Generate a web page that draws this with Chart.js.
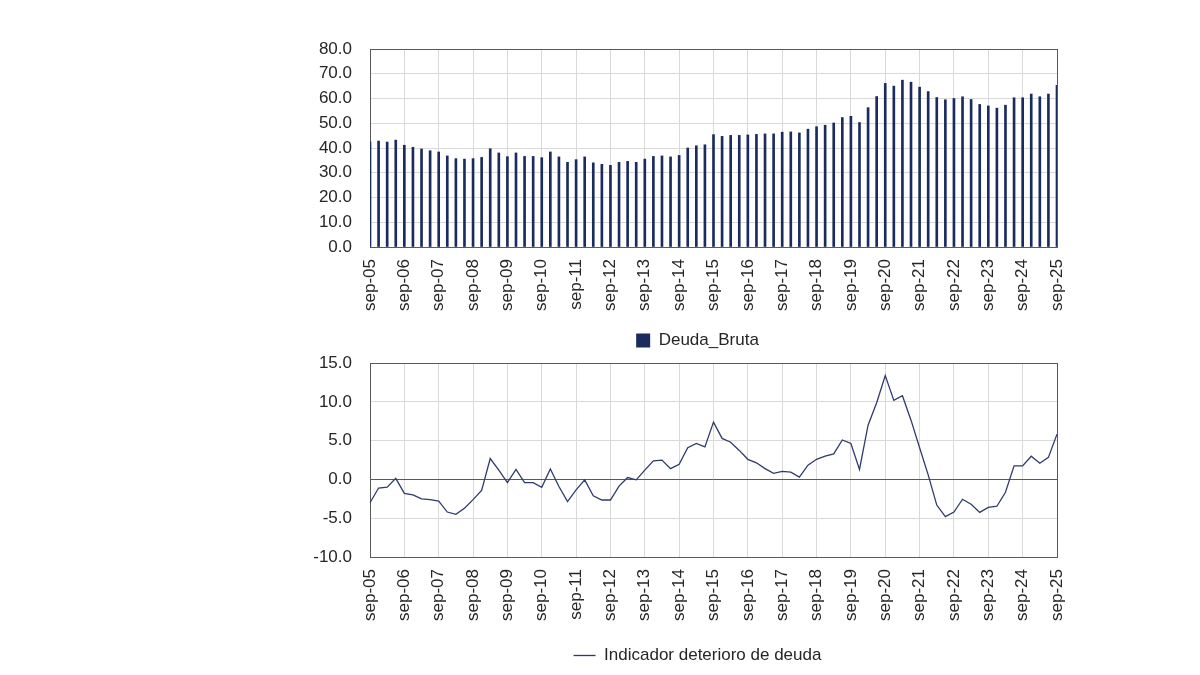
<!DOCTYPE html>
<html>
<head>
<meta charset="utf-8">
<script src="https://cdn.jsdelivr.net/npm/chart.js@4.4.1/dist/chart.umd.min.js"></script>
<style>
  html, body { margin: 0; padding: 0; background: #fff; }
  #wrap { position: relative; width: 1200px; height: 675px; }
  .box { position: absolute; left: 0; width: 1200px; }
</style>
</head>
<body>
<div id="wrap">
  <div class="box" style="top:0;height:359px"><canvas id="chart-debt" width="1200" height="359"></canvas></div>
  <div class="box" style="top:335px;height:340px"><canvas id="chart-indicator" width="1200" height="340"></canvas></div>
</div>
<script>
// Quarterly categories, sep-05 .. sep-25
const QUARTERS = [
  'sep-05', 'dic-05',
  'mar-06', 'jun-06', 'sep-06', 'dic-06',
  'mar-07', 'jun-07', 'sep-07', 'dic-07',
  'mar-08', 'jun-08', 'sep-08', 'dic-08',
  'mar-09', 'jun-09', 'sep-09', 'dic-09',
  'mar-10', 'jun-10', 'sep-10', 'dic-10',
  'mar-11', 'jun-11', 'sep-11', 'dic-11',
  'mar-12', 'jun-12', 'sep-12', 'dic-12',
  'mar-13', 'jun-13', 'sep-13', 'dic-13',
  'mar-14', 'jun-14', 'sep-14', 'dic-14',
  'mar-15', 'jun-15', 'sep-15', 'dic-15',
  'mar-16', 'jun-16', 'sep-16', 'dic-16',
  'mar-17', 'jun-17', 'sep-17', 'dic-17',
  'mar-18', 'jun-18', 'sep-18', 'dic-18',
  'mar-19', 'jun-19', 'sep-19', 'dic-19',
  'mar-20', 'jun-20', 'sep-20', 'dic-20',
  'mar-21', 'jun-21', 'sep-21', 'dic-21',
  'mar-22', 'jun-22', 'sep-22', 'dic-22',
  'mar-23', 'jun-23', 'sep-23', 'dic-23',
  'mar-24', 'jun-24', 'sep-24', 'dic-24',
  'mar-25', 'jun-25', 'sep-25'
];

// Deuda bruta (% PIB)
const DEUDA_BRUTA = [
  42.5, 42.8,
  42.4, 43.2, 41.1, 40.3,
  39.6, 38.9, 38.4, 36.8,
  35.7, 35.5, 35.7, 36.2,
  39.7, 38.0, 36.5, 38.0,
  36.6, 36.6, 36.1, 38.4,
  36.4, 34.2, 35.3, 36.4,
  34.0, 33.4, 33.0, 34.2,
  34.6, 34.2, 35.5, 36.6,
  36.8, 36.4, 37.0, 40.0,
  40.9, 41.3, 45.4, 44.7,
  45.1, 45.1, 45.3, 45.5,
  45.7, 45.7, 46.4, 46.5,
  46.1, 47.6, 48.6, 49.2,
  50.1, 52.3, 52.8, 50.3,
  56.3, 60.8, 66.1, 65.0,
  67.4, 66.6, 64.6, 62.8,
  60.4, 59.5, 60.0, 60.7,
  59.6, 57.6, 57.0, 56.1,
  57.3, 60.3, 60.3, 61.8,
  60.7, 61.8, 65.3
];

// Indicador deterioro de deuda
const INDICADOR = [
  -3.0, -1.1,
  -1.0, 0.15, -1.8, -2.0,
  -2.5, -2.6, -2.8, -4.2,
  -4.5, -3.7, -2.6, -1.4,
  2.7, 1.2, -0.4, 1.3,
  -0.4, -0.4, -1.0, 1.35,
  -0.9, -2.85, -1.35, -0.05,
  -2.1, -2.65, -2.65, -0.85,
  0.25, -0.05, 1.2, 2.4,
  2.5, 1.4, 1.95, 4.1,
  4.65, 4.2, 7.4, 5.3,
  4.8, 3.75, 2.6, 2.15,
  1.4, 0.8, 1.05, 0.95,
  0.3, 1.85, 2.6, 3.0,
  3.3, 5.1, 4.65, 1.3,
  7.0, 9.9, 13.4, 10.2,
  10.8, 7.65, 4.1, 0.6,
  -3.3, -4.8, -4.2, -2.55,
  -3.2, -4.25, -3.6, -3.45,
  -1.65, 1.75, 1.75, 3.0,
  2.1, 2.85, 5.85
];

const FONT = { family: "'Liberation Sans', Arial, sans-serif", size: 17 };
const TEXT_COLOR = '#262626';
const GRID_COLOR = '#d9d9d9';
const FRAME_COLOR = '#595959';

Chart.defaults.font.family = FONT.family;
Chart.defaults.font.size = FONT.size;
Chart.defaults.color = TEXT_COLOR;

// Box around the plot area (Excel style)
const framePlugin = {
  id: 'frame',
  beforeDatasetsDraw(chart) {
    const { ctx, chartArea: a } = chart;
    ctx.save();
    ctx.strokeStyle = FRAME_COLOR;
    ctx.lineWidth = 1;
    const l = Math.round(a.left) + 0.5, t = Math.round(a.top) + 0.5;
    const r = Math.round(a.right) + 0.5, b = Math.round(a.bottom) + 0.5;
    ctx.strokeRect(l, t, r - l, b - t);
    ctx.restore();
  }
};

// Legend sits a bit right of the padded box centre in the original
const legendShift = {
  id: 'legendShift',
  afterLayout(chart) {
    const lg = chart.legend;
    if (lg) {
      lg.left += 19;
      lg.right += 19;
    }
  }
};

// Year ticks only (every 4th quarter)
function yearTick(value, index) {
  return index % 4 === 0 ? QUARTERS[index] : null;
}

function xScale(height) {
  return {
    offset: false,
    grid: { offset: false, color: GRID_COLOR, drawTicks: false },
    border: { display: false },
    ticks: {
      autoSkip: false,
      maxRotation: 90,
      minRotation: 90,
      padding: 12,
      callback: yearTick
    },
    afterFit(scale) { scale.height = height; }
  };
}

function yScale(min, max, step, gridColor) {
  return {
    min,
    max,
    grid: { color: gridColor, drawTicks: false },
    border: { display: false },
    ticks: { stepSize: step, padding: 18, callback: v => v.toFixed(1) },
    afterFit(scale) { scale.width = 70; }
  };
}

// Top chart: Deuda_Bruta bars
new Chart(document.getElementById('chart-debt').getContext('2d'), {
  type: 'bar',
  data: {
    labels: QUARTERS,
    datasets: [{
      label: 'Deuda_Bruta',
      data: DEUDA_BRUTA,
      backgroundColor: '#1b2b5e',
      borderWidth: 0,
      barThickness: 2
    }]
  },
  options: {
    responsive: false,
    animation: false,
    layout: { padding: { left: 300, right: 143, top: 49, bottom: 0 } },
    plugins: {
      legend: {
        position: 'bottom',
        labels: { boxWidth: 14, boxHeight: 14, padding: 10 }
      },
      tooltip: { enabled: false }
    },
    scales: {
      x: xScale(75),
      y: yScale(0, 80, 10, GRID_COLOR)
    }
  },
  plugins: [framePlugin, legendShift]
});

// Bottom chart: indicator line
new Chart(document.getElementById('chart-indicator').getContext('2d'), {
  type: 'line',
  data: {
    labels: QUARTERS,
    datasets: [{
      label: 'Indicador deterioro de deuda',
      data: INDICADOR,
      borderColor: '#2f3b6b',
      backgroundColor: '#2f3b6b',
      borderWidth: 1.3,
      pointRadius: 0,
      tension: 0,
      fill: false
    }]
  },
  options: {
    responsive: false,
    animation: false,
    layout: { padding: { left: 300, right: 143, top: 28, bottom: 1 } },
    plugins: {
      legend: {
        position: 'bottom',
        labels: { usePointStyle: true, pointStyle: 'line', pointStyleWidth: 22, padding: 10 }
      },
      tooltip: { enabled: false }
    },
    scales: {
      x: xScale(80),
      y: yScale(-10, 15, 5, ctx => ctx.tick && ctx.tick.value === 0 ? FRAME_COLOR : GRID_COLOR)
    }
  },
  plugins: [framePlugin, legendShift]
});
</script>
</body>
</html>
